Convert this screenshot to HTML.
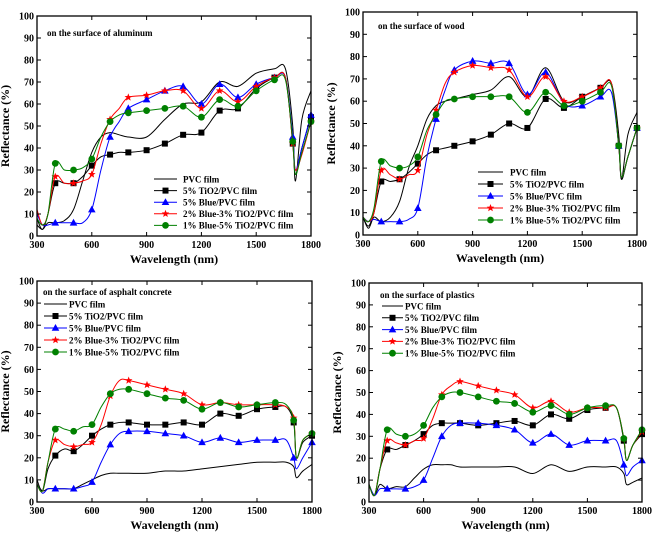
<!DOCTYPE html>
<html><head><meta charset="utf-8"><style>
html,body{margin:0;padding:0;background:#fff;}
svg{display:block;font-family:"Liberation Serif",serif;font-weight:bold;}
</style></head><body>
<svg id="chart" width="657" height="542" viewBox="0 0 657 542" xmlns="http://www.w3.org/2000/svg"></svg>
<script>
const wavelengths=[300,330,360,400,450,500,550,600,650,700,750,800,900,1000,1100,1200,1300,1400,1500,1600,1660,1700,1715,1750,1800];
const markerWavelengths=[400,500,600,700,800,900,1000,1100,1200,1300,1400,1500,1600,1700,1800];
const seriesNames=["PVC film","5% TiO2/PVC film","5% Blue/PVC film","2% Blue-3% TiO2/PVC film","1% Blue-5% TiO2/PVC film"];
const xTicks=[300,600,900,1200,1500,1800];
const yTicks=[0,10,20,30,40,50,60,70,80,90,100];
const panelTitles=["on the surface of aluminum","on the surface of wood","on the surface of asphalt concrete","on the surface of plastics"];

const aluPVC=[5,3,6,6,7,12,25,38,45,47,46,45,45,53,60,61,70,68,74,76,76,50,25,53,66];
const aluTiO2=[8,3,10,24,24,24,27,32,36,37,38,38,39,42,46,47,57,58,67,72,72,42,28,40,54];
const aluBlue=[10,5,5,6,6,6,6,12,30,45,52,58,62,66,68,60,69,63,69,72,72,45,30,40,55];
const aluRed=[12,5,10,27,24,24,25,28,42,53,58,63,64,66,66,58,66,61,68,72,72,42,30,37,52];
const aluGreen=[8,5,10,33,30,30,31,35,45,52,55,56,57,58,59,54,62,59,66,71,71,43,28,38,52];

const woodPVC=[8,3,8,6,8,15,30,40,52,58,60,61,63,65,71,62,75,60,62,66,68,45,25,45,55];
const woodTiO2=[8,4,10,24,24,25,28,32,36,38,39,40,42,45,50,48,61,57,62,66,68,40,25,35,48];
const woodBlue=[8,6,7,6,6,6,7,12,35,52,65,74,78,77,77,63,73,59,58,62,64,40,26,35,48];
const woodRed=[8,6,10,29,27,25,27,29,45,56,68,73,76,75,74,62,71,60,62,66,68,40,26,35,48];
const woodGreen=[8,6,12,33,31,30,31,35,47,54,60,61,62,62,62,55,64,58,60,64,67,40,26,35,48];

const asphPVC=[8,5,6,6,6,6,8,10,12,13,13,13,13,14,14,15,16,17,18,18,18,16,11,14,17];
const asphTiO2=[10,5,15,21,24,23,26,30,33,35,36,36,35,35,36,35,40,39,42,43,43,36,20,27,30];
const asphBlue=[8,4,6,6,6,6,7,9,18,26,31,32,32,31,30,27,29,27,28,28,28,20,15,20,27];
const asphRed=[8,5,18,28,26,25,26,27,35,48,55,55,53,51,49,44,45,44,44,44,43,38,20,28,31];
const asphGreen=[8,5,18,33,33,32,34,35,43,49,51,51,49,47,46,42,45,43,44,45,44,37,20,28,31];

const plasPVC=[8,3,8,6,7,7,11,15,17,17,17,16,16,16,16,13,17,14,16,16,16,13,8,9,11];
const plasTiO2=[8,3,15,24,24,26,28,31,35,36,36,36,35,36,37,35,40,38,42,43,43,28,19,26,31];
const plasBlue=[8,3,6,6,6,6,7,10,20,30,35,36,36,35,33,27,31,26,28,28,28,17,12,16,19];
const plasRed=[8,3,15,28,27,26,28,29,38,49,53,55,53,51,49,43,46,41,43,43,43,29,19,26,32];
const plasGreen=[8,3,15,33,31,30,31,35,43,48,50,50,48,46,45,41,44,40,43,44,43,29,19,26,33];

const panelData=[[aluPVC,aluTiO2,aluBlue,aluRed,aluGreen],[woodPVC,woodTiO2,woodBlue,woodRed,woodGreen],[asphPVC,asphTiO2,asphBlue,asphRed,asphGreen],[plasPVC,plasTiO2,plasBlue,plasRed,plasGreen]];

const NS="http://www.w3.org/2000/svg";
const svg=document.getElementById('chart');
const colors=["#000","#000","#0000ff","#ff0000","#008000"];
const markers=[null,"square","triangle","star","circle"];
const boxes=[{l:37,r:311,t:16,b:236},{l:363,r:637,t:12,b:235},{l:37,r:312,t:281,b:502},{l:369,r:642,t:283,b:502}];
const titlePos=[[47,36],[378,29],[43,295],[380,298]];
const legends=[{x1:154,x2:177,tx:183,y0:179,dy:11.6},{x1:478,x2:503,tx:510,y0:172,dy:12},{x1:44,x2:67,tx:69,y0:304,dy:12},{x1:382,x2:403,tx:405,y0:306,dy:11.8}];

function mk(tag,attrs,parent){const e=document.createElementNS(NS,tag);for(const k in attrs)e.setAttribute(k,attrs[k]);(parent||svg).appendChild(e);return e;}
function marker(g,type,x,y,c){
  let e;
  if(type==="square"){e=mk('rect',{x:x-3,y:y-3,width:6,height:6,fill:c},g);}
  else if(type==="triangle"){e=mk('polygon',{points:`${x},${y-4} ${x+3.8},${y+2.8} ${x-3.8},${y+2.8}`,fill:c},g);}
  else if(type==="circle"){e=mk('circle',{cx:x,cy:y,r:3.4,fill:c},g);}
  else{let p=[];for(let i=0;i<10;i++){const r=i%2?1.7:4;const a=-Math.PI/2+i*Math.PI/5;p.push((x+r*Math.cos(a)).toFixed(2)+','+(y+r*Math.sin(a)).toFixed(2));}e=mk('polygon',{points:p.join(' '),fill:c},g);}
  
  
}
function smoothPath(pts){
  let d=`M${pts[0][0]},${pts[0][1]}`;
  for(let i=0;i<pts.length-1;i++){
    const p0=pts[i-1]||pts[i],p1=pts[i],p2=pts[i+1],p3=pts[i+2]||p2;
    const c1=[p1[0]+(p2[0]-p0[0])/6,p1[1]+(p2[1]-p0[1])/6];
    const c2=[p2[0]-(p3[0]-p1[0])/6,p2[1]-(p3[1]-p1[1])/6];
    d+=` C${c1[0].toFixed(2)},${c1[1].toFixed(2)} ${c2[0].toFixed(2)},${c2[1].toFixed(2)} ${p2[0].toFixed(2)},${p2[1].toFixed(2)}`;
  }
  return d;
}
panelData.forEach((series,pi)=>{
  const B=boxes[pi];
  const xs=w=>B.l+(w-300)/1500*(B.r-B.l);
  const ys=v=>B.b-v/100*(B.b-B.t);
  const g=mk('g',{});
  
  
  const clipId='clip'+pi;
  const cp=mk('clipPath',{id:clipId},g);mk('rect',{x:B.l,y:B.t,width:B.r-B.l,height:B.b-B.t},cp);
  // series
  series.forEach((vals,si)=>{
    const pts=wavelengths.map((w,i)=>[xs(w),ys(vals[i])]);
    const p=mk('path',{d:smoothPath(pts),fill:'none',stroke:colors[si],'stroke-width':1,'clip-path':`url(#${clipId})`},g);
    
    
    if(markers[si]){
      markerWavelengths.forEach(w=>{const i=wavelengths.indexOf(w);marker(g,markers[si],xs(w),ys(vals[i]),colors[si]);});
    }
  });
  // frame
  const fr=mk('rect',{x:B.l,y:B.t,width:B.r-B.l,height:B.b-B.t,fill:'none',stroke:'#000','stroke-width':1.3},g);
  
  
  yTicks.forEach(v=>{
    const y=ys(v);
    mk('line',{x1:B.l,x2:B.l+4,y1:y,y2:y,stroke:'#000'},g);
    mk('line',{x1:B.r,x2:B.r-4,y1:y,y2:y,stroke:'#000'},g);
    const t=mk('text',{x:B.l-3,y:y+3.5,'text-anchor':'end','font-size':10},g);t.textContent=v;
    
    
  });
  xTicks.forEach(w=>{
    const x=xs(w);
    mk('line',{x1:x,x2:x,y1:B.b,y2:B.b-4,stroke:'#000'},g);
    mk('line',{x1:x,x2:x,y1:B.t,y2:B.t+4,stroke:'#000'},g);
    const t=mk('text',{x:x,y:B.b+12,'text-anchor':'middle','font-size':10},g);t.textContent=w;
    
    
  });
  const xt=mk('text',{x:(B.l+B.r)/2,y:B.b+27,'text-anchor':'middle','font-size':12},g);xt.textContent='Wavelength (nm)';
  
  
  const yx=B.l-28,yy=(B.t+B.b)/2;
  const yt=mk('text',{x:yx,y:yy,'text-anchor':'middle','font-size':12,transform:`rotate(-90 ${yx} ${yy})`},g);yt.textContent='Reflectance (%)';
  
  
  const tt=mk('text',{x:titlePos[pi][0],y:titlePos[pi][1],'font-size':9},g);tt.textContent=panelTitles[pi];
  
  
  const L=legends[pi];
  seriesNames.forEach((n,si)=>{
    const y=L.y0+si*L.dy;
    mk('line',{x1:L.x1,x2:L.x2,y1:y,y2:y,stroke:colors[si],'stroke-width':1},g);
    if(markers[si])marker(g,markers[si],(L.x1+L.x2)/2,y,colors[si]);
    const t=mk('text',{x:L.tx,y:y+3.3,'font-size':9},g);t.textContent=n;
    
    
  });
});
</script>
</body></html>
